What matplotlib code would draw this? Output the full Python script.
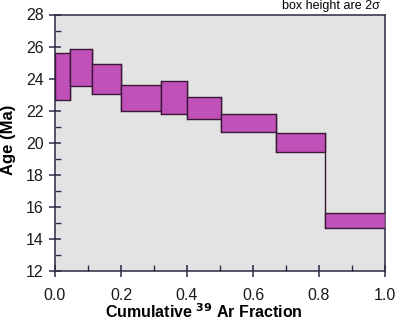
import matplotlib
matplotlib.use('Agg')
import matplotlib.pyplot as plt
from matplotlib.patches import Rectangle
from matplotlib.ticker import MultipleLocator

plt.rcParams['font.family'] = ['Liberation Sans', 'DejaVu Sans']

# cumulative 39Ar fraction at step boundaries
frac_edges = [0.0, 0.046, 0.111, 0.200, 0.320, 0.400, 0.503, 0.669, 0.819, 1.0]
# age box tops / bottoms (Ma), box height = 2 sigma
age_top = [25.57, 25.82, 24.93, 23.61, 23.84, 22.86, 21.82, 20.61, 15.64]
age_bot = [22.66, 23.57, 23.05, 21.99, 21.82, 21.47, 20.66, 19.45, 14.70]

fill_col = '#c051b8'
edge_col = '#3a1838'
axis_col = '#2b2b45'

fig = plt.figure(figsize=(3.97, 3.2), dpi=100)
ax = fig.add_axes([55/397, 1-271/320, 330/397, 256.5/320])
ax.set_facecolor('#e3e3e3')

for i in range(len(age_top)):
    x0 = frac_edges[i]
    w = frac_edges[i+1] - frac_edges[i]
    ax.add_patch(Rectangle((x0, age_bot[i]), w, age_top[i] - age_bot[i],
                           facecolor=fill_col, edgecolor=edge_col, lw=1.0, zorder=3))

# connecting verticals between neighbouring steps
for i in range(len(age_top) - 1):
    vals = [age_top[i], age_bot[i], age_top[i+1], age_bot[i+1]]
    ax.plot([frac_edges[i+1]] * 2, [min(vals), max(vals)], color=edge_col, lw=1.0, zorder=2)

ax.set_xlim(0, 1)
ax.set_ylim(12, 28)
ax.xaxis.set_major_locator(MultipleLocator(0.2))
ax.xaxis.set_minor_locator(MultipleLocator(0.1))
ax.yaxis.set_major_locator(MultipleLocator(2))
ax.yaxis.set_minor_locator(MultipleLocator(1))
ax.xaxis.set_major_formatter(matplotlib.ticker.FormatStrFormatter('%.1f'))

ax.tick_params(which='major', direction='inout', length=8.5, width=1.1, color=axis_col,
               labelsize=11.5, labelcolor='#1a1a1a')
ax.tick_params(axis='y', which='major', pad=4)
ax.tick_params(axis='x', which='major', pad=8)
ax.tick_params(which='minor', direction='in', length=4, width=1.0, color=axis_col)
for s in ax.spines.values():
    s.set_color(axis_col)
    s.set_linewidth(1.1)

fig.text(9/397, 1-140/320, 'Age (Ma)', rotation=90, ha='center', va='center',
         fontsize=12, fontweight='bold')
fig.text(204/397, 1-318/320, r'Cumulative $^{\mathbf{39}}$ Ar Fraction', ha='center', va='baseline',
         fontsize=11.5, fontweight='bold')

fig.text(380/397, 1-6/320, 'box height are 2σ', ha='right', va='center', fontsize=9)

fig.savefig('out.png', dpi=100)
